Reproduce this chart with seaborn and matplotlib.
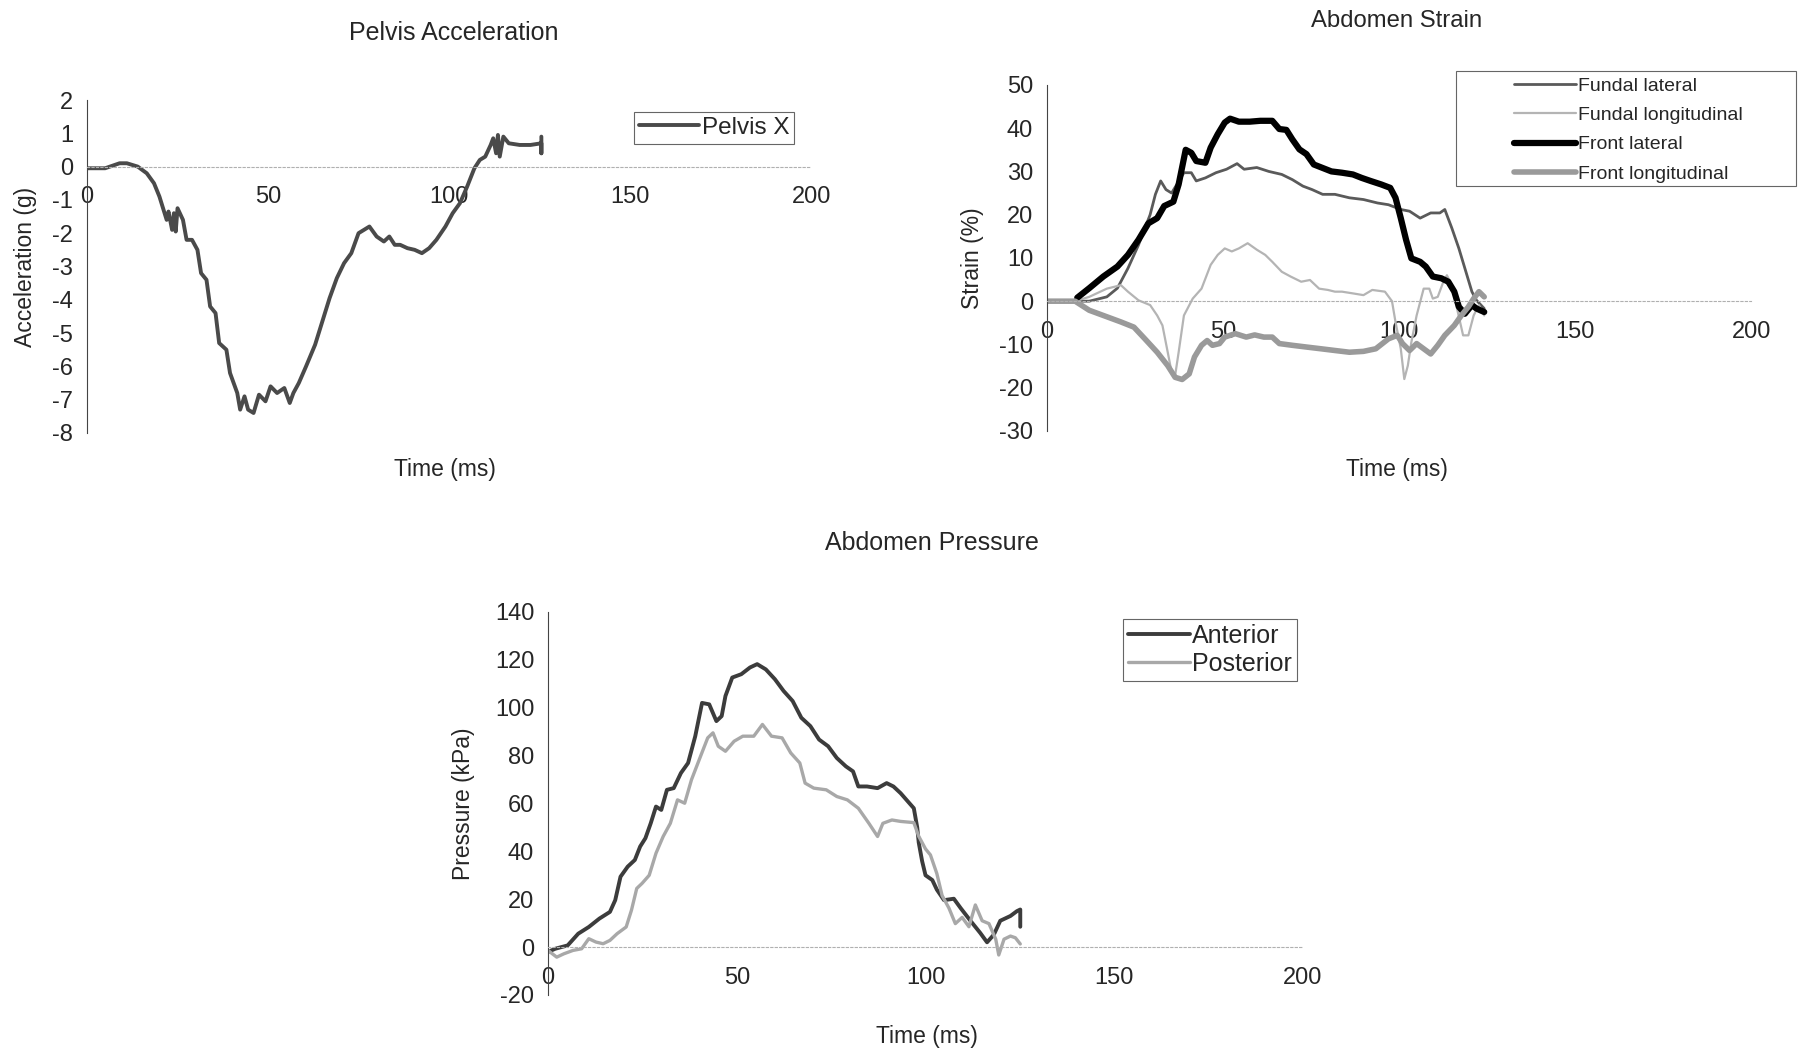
# Pelvis / abdomen response curves, three panels in the old Excel style
import matplotlib
matplotlib.use("Agg")
import matplotlib.pyplot as plt
import seaborn as sns
from matplotlib.patches import Rectangle

sns.set_style("white")
plt.rcParams["font.family"] = ["Liberation Sans", "DejaVu Sans"]
plt.rcParams["axes.unicode_minus"] = False

# (time ms, value)
pelvis_x = [(0, -0.05), (5, -0.05), (9, 0.1), (11, 0.1), (14, 0), (16.5, -0.2), (18.5, -0.5),
            (20, -0.9), (21, -1.25), (22, -1.6), (22.5, -1.35), (23.5, -1.9), (24, -1.4),
            (24.5, -1.95), (25, -1.25), (26.5, -1.6), (27.5, -2.2), (29, -2.2), (30.5, -2.5),
            (31.5, -3.2), (33, -3.4), (34, -4.2), (35.5, -4.4), (36.5, -5.3), (38.5, -5.5),
            (39.5, -6.2), (41.5, -6.8), (42.3, -7.3), (43.5, -6.9), (44.5, -7.3), (46, -7.4),
            (47.5, -6.85), (49.3, -7.05), (50.7, -6.6), (52.5, -6.8), (54.5, -6.65), (56, -7.1),
            (57, -6.8), (58.5, -6.5), (60.5, -6.0), (63, -5.35), (65, -4.65), (67, -3.95),
            (69, -3.35), (71, -2.9), (73, -2.6), (75, -2.0), (76.5, -1.9), (78, -1.8), (80, -2.1),
            (82, -2.25), (83.5, -2.1), (85, -2.35), (86.5, -2.35), (88.5, -2.45), (90.5, -2.5),
            (92.5, -2.6), (94.5, -2.45), (96.5, -2.2), (99, -1.8), (101, -1.4), (103, -1.1),
            (105, -0.6), (107, -0.05), (108.5, 0.2), (110, 0.3), (111.5, 0.65), (112.2, 0.85),
            (113, 0.4), (113.5, 0.95), (114, 0.3), (115, 0.9), (116.5, 0.7), (119.5, 0.65),
            (122.5, 0.65), (125.5, 0.7), (125.5, 0.4), (125.5, 0.9)]

fundal_lateral = [(0, 0), (8, 0), (12, 0), (17, 1), (20, 3), (23, 7.6), (26, 13), (29.3, 20),
                  (30.8, 24.7), (32.3, 27.8), (33.8, 25.8), (35.4, 25), (36.9, 27), (38.9, 29.7),
                  (41, 29.7), (42.4, 27.8), (45, 28.5), (48, 29.7), (51, 30.5), (54, 31.8),
                  (56, 30.5), (59.6, 30.9), (63, 30), (66.7, 29.3), (69.7, 28.1), (72.7, 26.6),
                  (75.3, 25.8), (78.3, 24.7), (81.8, 24.7), (85.9, 23.9), (89.9, 23.5),
                  (93.9, 22.7), (97, 22.3), (100.5, 21.2), (103, 20.8), (106, 19.2), (109, 20.4),
                  (111.6, 20.4), (113, 21.2), (115, 16.9), (117, 12.2), (119, 6.8), (120.7, 2.2),
                  (122, 0.2), (124.2, -1.7)]

fundal_longitudinal = [(0, 0), (8, 0), (12, 1), (17, 2.9), (21, 3.7), (23, 2.2), (26, 0.2),
                       (29.3, -0.9), (31.3, -3.3), (32.8, -5.6), (34.3, -11.8), (35.4, -16.4),
                       (36.4, -17.2), (37.4, -11.8), (38.9, -3.3), (41.4, 0.6), (43.9, 2.9),
                       (46.5, 8.4), (48.5, 10.7), (50.5, 12.2), (52.5, 11.5), (54.5, 12.2),
                       (57, 13.4), (59.6, 11.9), (62, 10.7), (64, 9.1), (66.7, 6.8), (69.2, 5.7),
                       (72.2, 4.5), (74.7, 4.9), (77.3, 2.9), (79.8, 2.6), (81.8, 2.2),
                       (83.8, 2.2), (86.9, 1.8), (89.9, 1.4), (92.4, 2.6), (96, 2.2), (98, 0),
                       (99, -4.8), (100.5, -11), (101.5, -18), (102.5, -14.9), (103.5, -9.5),
                       (105, -3.3), (107, 2.9), (108.6, 2.9), (109.6, 0.6), (111, 1), (112.6, 4.5),
                       (113.6, 6), (115, 3.7), (116.7, -2.5), (118.2, -7.9), (119.7, -7.9),
                       (121.2, -3.3), (122.7, -0.9), (124.2, -3.3)]

front_lateral = [(8.6, 0.8), (12, 3), (16, 5.7), (20, 8), (23, 10.7), (26, 14.2), (28.8, 18),
                 (31.3, 19.2), (33.3, 22), (35.9, 23), (37.4, 27), (39.4, 35), (41, 34.3),
                 (42.4, 32.4), (45, 32), (46.5, 35.5), (48.5, 38.6), (50.5, 41.3), (52, 42.2),
                 (54.5, 41.5), (57.6, 41.5), (60.6, 41.7), (64, 41.7), (66, 39.8), (68, 39.6),
                 (69.7, 37.4), (71.7, 35.1), (73.7, 34), (75.8, 31.6), (78.3, 30.8), (80.8, 30),
                 (83.8, 29.7), (86.9, 29.3), (89.4, 28.5), (91.9, 27.8), (94.9, 27), (97.5, 26.2),
                 (99, 23.9), (100.5, 19.2), (102, 14.2), (103.5, 9.9), (106, 9.1), (107.6, 8),
                 (109.6, 5.7), (112, 5.3), (114, 4.5), (115.7, 2.2), (117, -1.3), (118.7, -2.9),
                 (120.7, -0.9), (122, -1.7), (124.2, -2.5)]

front_longitudinal = [(0, 0), (8, 0), (12, -2.1), (17, -3.6), (21, -4.8), (24.7, -6),
                      (27.8, -8.7), (31.3, -11.8), (34.3, -14.9), (36.4, -17.6), (38.4, -18.1),
                      (40.4, -16.8), (41.9, -12.9), (43.9, -10.2), (45.5, -9.1), (47, -10.2),
                      (49, -9.8), (50.5, -8.3), (53.5, -7.5), (56.6, -8.3), (59, -7.8),
                      (61.6, -8.3), (64, -8.3), (66, -9.8), (69.7, -10.2), (73.7, -10.6),
                      (77.8, -11), (81.8, -11.4), (85.9, -11.8), (89.9, -11.6), (93.4, -11),
                      (97, -8.7), (99.5, -7.9), (101, -9.8), (103, -11.4), (105, -9.8), (107, -11),
                      (109, -12.2), (111, -10.2), (113, -7.9), (115.7, -5.6), (117.7, -3.3),
                      (119.7, -1.3), (121.2, 0.6), (122.7, 2.2), (124.2, 1)]

anterior = [(0, -2), (1.9, -0.7), (5.2, 0.7), (8, 5.6), (10.8, 8.4), (13.6, 11.9), (16.4, 14.7),
            (17.8, 19.6), (19.2, 29.4), (21.1, 33.6), (23, 36.4), (24.4, 42), (25.8, 45.5),
            (27.2, 51.7), (28.6, 58.7), (30, 57.3), (31.5, 65.7), (33.3, 66.4), (35.2, 72.7),
            (37.1, 76.9), (39, 88.1), (40.8, 102), (42.7, 101.4), (44.6, 94.4), (46, 96.5),
            (47, 104.9), (48.8, 112.6), (51.2, 114), (53.5, 116.8), (55.4, 118.2), (57.7, 116),
            (60.1, 111.9), (62.4, 107), (64.8, 102.8), (67.1, 95.8), (69.5, 92.3), (71.8, 86.7),
            (74.2, 83.9), (76.5, 79), (78.9, 75.5), (80.8, 73.4), (82.2, 67.1), (84.5, 67.1),
            (87.3, 66.4), (89.7, 68.5), (91.5, 67.1), (93.4, 64.3), (96.9, 58), (97.8, 50),
            (98.2, 43.7), (99.1, 35.9), (100, 30), (101.8, 28), (103, 24), (104.9, 19.6),
            (107.5, 20.2), (109.3, 16.3), (111.9, 11), (114.5, 5.9), (116.3, 2), (118.1, 5.2),
            (119.8, 11), (122.5, 13), (124.2, 15), (125.1, 15.7), (125.1, 8.5)]

posterior = [(0, -1.4), (2.3, -4.2), (4.2, -2.8), (6.6, -1.4), (8.9, -0.7), (10.8, 3.5),
             (12.7, 2.1), (14.6, 1.4), (16.4, 2.8), (18.3, 5.6), (20.7, 8.4), (22.1, 15.4),
             (23.5, 24.5), (24.9, 26.6), (26.8, 30), (28.6, 39.2), (30.5, 46.2), (32.4, 51.7),
             (34.3, 61.5), (36.2, 60.1), (38, 69.9), (40.4, 79.7), (42.3, 87.4), (43.7, 89.5),
             (45.1, 83.9), (47, 81.8), (49.3, 86), (51.6, 88.1), (54.5, 88.1), (56.8, 93),
             (59.2, 88.1), (62, 87.4), (64.3, 81.1), (66.7, 76.9), (68.1, 68.5), (70.4, 66.4),
             (73.7, 65.7), (76.5, 62.9), (79.3, 61.5), (82.2, 58), (85, 51.7), (87.3, 46.2),
             (88.7, 51.7), (91.1, 53.1), (93.4, 52.5), (96.9, 52), (98.2, 46.3), (100, 41),
             (101.3, 38.5), (103, 30.7), (104.4, 21.5), (106.2, 16.3), (107.9, 9.8),
             (109.7, 12.4), (111.5, 8.5), (113.2, 17.6), (115, 11), (116.8, 9.8), (118.6, 3.3),
             (119.4, -3.3), (120.8, 3.3), (122.5, 4.6), (123.8, 3.9), (125.1, 1.3)]

x_ticks = [0, 50, 100, 150, 200]


def draw(ax, pts, label, color, lw):
    t = [p[0] for p in pts]
    v = [p[1] for p in pts]
    sns.lineplot(x=t, y=v, ax=ax, color=color, lw=lw, label=label,
                 estimator=None, sort=False)


def style(ax, ylim, ystep, ylabel, ylabel_x, title, title_xy, title_size, xlabel_xy):
    ax.set_xlim(0, 200)
    ax.set_ylim(*ylim)
    ax.set_xticks(x_ticks)
    ax.set_yticks(list(range(ylim[0], ylim[1] + 1, ystep)))
    for s in ["top", "right"]:
        ax.spines[s].set_visible(False)
    ax.spines["bottom"].set_position(("data", 0))
    ax.spines["bottom"].set_color("#b0b0b0")
    ax.spines["bottom"].set_linestyle((0, (2, 2)))
    ax.spines["bottom"].set_linewidth(0.8)
    ax.spines["left"].set_color("#444444")
    ax.spines["left"].set_linewidth(0.8)
    ax.tick_params(axis="x", labelsize=17, pad=14, length=4, direction="in", color="#888888")
    ax.tick_params(axis="y", labelsize=17, pad=10, length=0)
    ax.set_ylabel(ylabel, fontsize=16.5)
    ax.yaxis.set_label_coords(ylabel_x, 0.5)
    ax.set_xlabel("Time (ms)", fontsize=16.5)
    ax.xaxis.set_label_coords(*xlabel_xy)
    ax.text(title_xy[0], title_xy[1], title, transform=ax.transAxes,
            ha="center", va="center", fontsize=title_size)
    ax.grid(False)


fig = plt.figure(figsize=(17.98, 10.56), dpi=100)
ax1 = fig.add_axes([0.0484, 0.590, 0.4027, 0.3153])
ax2 = fig.add_axes([0.5823, 0.5919, 0.3916, 0.3277])
ax3 = fig.add_axes([0.3048, 0.0578, 0.4199, 0.3627])

# Pelvis acceleration
draw(ax1, pelvis_x, "Pelvis X", "#4a4a4a", 2.8)
style(ax1, (-8, 2), 1, "Acceleration (g)", -0.069, "Pelvis Acceleration",
      (0.506, 1.2), 18, (0.494, -0.075))
leg = ax1.legend(loc="upper left", bbox_to_anchor=(0.755, 0.964), fontsize=17.5,
                 handlelength=2.5, handletextpad=0.1, borderaxespad=0, borderpad=0.2,
                 fancybox=False, framealpha=1, edgecolor="#666666")
leg.get_frame().set_linewidth(0.8)

# Abdomen strain
draw(ax2, fundal_lateral, "Fundal lateral", "#5a5a5a", 2.0)
draw(ax2, fundal_longitudinal, "Fundal longitudinal", "#b4b4b4", 1.6)
draw(ax2, front_lateral, "Front lateral", "#000000", 4.5)
draw(ax2, front_longitudinal, "Front longitudinal", "#9a9a9a", 4.0)
style(ax2, (-30, 50), 10, "Strain (%)", -0.089, "Abdomen Strain",
      (0.497, 1.185), 17.2, (0.497, -0.078))
ax2.legend(loc="upper left", bbox_to_anchor=(0.663, 1.022), frameon=False,
           fontsize=14, handlelength=3.2, handletextpad=0.1,
           labelspacing=0.6, borderaxespad=0, borderpad=0)
ax2.add_patch(Rectangle((0.581, 0.708), 0.483, 0.332, transform=ax2.transAxes,
                        fill=False, edgecolor="#666666", lw=0.8, clip_on=False))

# Abdomen pressure
draw(ax3, anterior, "Anterior", "#3c3c3c", 2.8)
draw(ax3, posterior, "Posterior", "#a8a8a8", 2.4)
style(ax3, (-20, 140), 20, "Pressure (kPa)", -0.097, "Abdomen Pressure",
      (0.509, 1.18), 18, (0.502, -0.078))
leg = ax3.legend(loc="upper left", bbox_to_anchor=(0.762, 0.982), fontsize=18,
                 handlelength=2.45, handletextpad=0.1, labelspacing=0.15,
                 borderaxespad=0, borderpad=0.2,
                 fancybox=False, framealpha=1, edgecolor="#666666")
leg.get_frame().set_linewidth(0.8)

fig.savefig("out.png", dpi=100)
